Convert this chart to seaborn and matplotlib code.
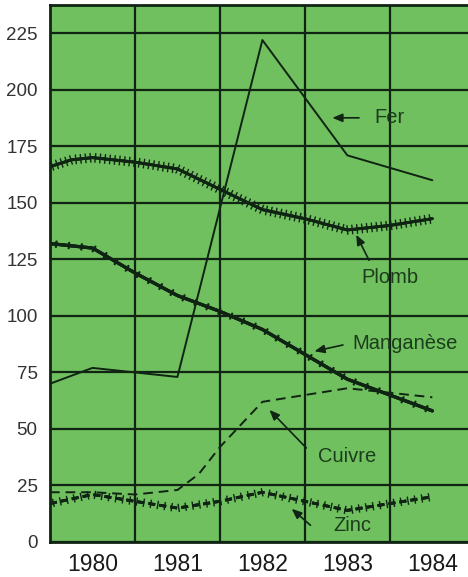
import matplotlib
matplotlib.use("Agg")
import matplotlib.pyplot as plt
import matplotlib.patheffects as pe
import seaborn as sns
import pandas as pd

# values (x = year, half years for the curve shape)
fer_x = [1979.5, 1980, 1981, 1982, 1983, 1984]
fer_y = [70, 77, 73, 222, 171, 160]

plomb_x = [1979.5, 1979.75, 1980, 1980.5, 1981, 1981.5, 1982, 1982.5, 1983, 1983.5, 1984]
plomb_y = [166, 169, 170, 168, 165, 156, 147, 143, 138, 140, 143]

mn_x = [1979.5, 1980, 1980.5, 1981, 1981.5, 1982, 1982.5, 1983, 1983.5, 1984]
mn_y = [132, 130, 119, 109, 102, 94, 83, 72, 65, 58]

cu_x = [1979.5, 1980, 1980.5, 1981, 1981.25, 1981.5, 1982, 1982.5, 1983, 1983.5, 1984]
cu_y = [22, 22, 21, 23, 30, 42, 62, 65, 68, 66, 64]

zn_x = [1979.5, 1980, 1980.5, 1981, 1981.5, 1982, 1982.5, 1983, 1983.5, 1984]
zn_y = [17, 21, 18, 15, 18, 22, 18, 14, 17, 20]

years = [1980, 1981, 1982, 1983, 1984]
yticks = [0, 25, 50, 75, 100, 125, 150, 175, 200, 225]

sns.set_style("white")
plt.rcParams["font.family"] = ["Liberation Sans", "DejaVu Sans"]

fig = plt.figure(figsize=(4.68, 5.77), dpi=100)
ax = fig.add_axes([50 / 468, 35 / 577, 418 / 468, 537 / 577])
ax.set_facecolor("#70c05f")

ink = "#0f2412"


def crossed(spacing, length, lw):
    return [pe.withTickedStroke(spacing=spacing, length=length, angle=90, linewidth=lw),
            pe.withTickedStroke(spacing=spacing, length=length, angle=-90, linewidth=lw),
            pe.Normal()]


sns.lineplot(x=fer_x, y=fer_y, ax=ax, color=ink, lw=1.4, sort=False)
sns.lineplot(x=plomb_x, y=plomb_y, ax=ax, color=ink, lw=2.0, sort=False,
             path_effects=crossed(3.5, 0.9, 1.0))
sns.lineplot(x=mn_x, y=mn_y, ax=ax, color=ink, lw=2.3, sort=False,
             path_effects=crossed(9, 0.22, 1.6))
sns.lineplot(x=cu_x, y=cu_y, ax=ax, color=ink, lw=1.4, sort=False, linestyle=(0, (5, 3)))
sns.lineplot(x=zn_x, y=zn_y, ax=ax, color=ink, lw=2.0, sort=False, linestyle=(0, (2.5, 1.5)),
             path_effects=crossed(5, 0.6, 1.0))

ax.set_xlim(1979.5, 1984.42)
ax.set_ylim(0, 237.5)
ax.set_xticks(years)
ax.set_xticklabels([str(y) for y in years], fontsize=16.5, color="#1a1a1a")
ax.set_xticks([1980.5, 1981.5, 1982.5, 1983.5], minor=True)
ax.set_yticks(yticks)
ax.set_yticklabels([str(v) for v in yticks], fontsize=13.5, color="#333333")
ax.tick_params(axis="both", which="both", length=0)
ax.tick_params(axis="y", pad=9)
ax.tick_params(axis="x", pad=8)
ax.grid(axis="y", which="major", color=ink, lw=1.6)
ax.grid(axis="x", which="minor", color=ink, lw=1.6)
ax.set_axisbelow(True)

for s in ["left", "bottom", "top"]:
    ax.spines[s].set_color(ink)
    ax.spines[s].set_linewidth(2)
ax.spines["right"].set_visible(False)

txt = dict(fontsize=14.5, color="#1c3d1c", va="center", ha="left")
arr = dict(arrowstyle="-|>,head_length=0.6,head_width=0.25", color=ink, lw=1.2)

ax.text(1983.32, 187.6, "Fer", **txt)
ax.annotate("", xy=(1982.79, 187.6), xytext=(1983.17, 187.6), arrowprops=arr)
ax.text(1983.16, 116.8, "Plomb", **txt)
ax.annotate("", xy=(1983.09, 137.0), xytext=(1983.27, 123.5), arrowprops=arr)
ax.text(1983.06, 88.0, "Manganèse", **txt)
ax.annotate("", xy=(1982.58, 84.1), xytext=(1982.98, 87.4), arrowprops=arr)
ax.text(1982.65, 38.0, "Cuivre", **txt)
ax.annotate("", xy=(1982.06, 59.3), xytext=(1982.54, 40.7), arrowprops=arr)
ax.text(1982.83, 7.5, "Zinc", **txt)
ax.annotate("", xy=(1982.32, 15.5), xytext=(1982.59, 6.6), arrowprops=arr)

fig.savefig("out.png", dpi=100)
